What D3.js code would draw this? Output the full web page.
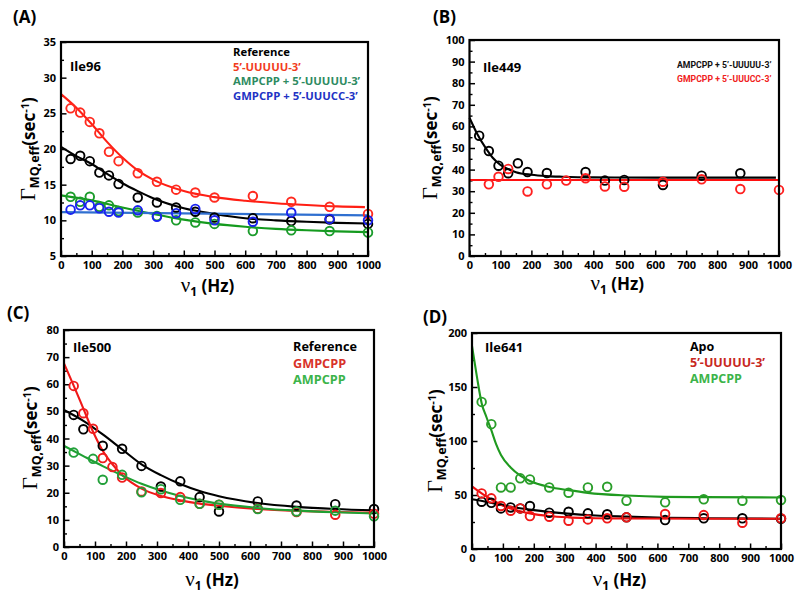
<!DOCTYPE html>
<html><head><meta charset="utf-8">
<script src="https://cdn.jsdelivr.net/npm/d3@7"></script>
<style>body{margin:0;background:#fff}svg{display:block}</style>
</head><body><svg id="c" width="800" height="595"></svg>
<script>
// ---------- DATA ----------
const xHz = [31.25, 62.5, 93.75, 125, 156.25, 187.5, 250, 312.5, 375, 437.5, 500, 625, 750, 875, 1000];

// (A) Ile96
const aReference = [18.6, 19.05, 18.3, 16.7, 16.3, 15.1, 13.2, 12.5, 11.8, 11.2, 10.4, 10.3, 9.9, 10.1, 9.5];
const aUUUUU     = [25.7, 25.1, 23.8, 22.2, 19.6, 18.3, 16.6, 15.4, 14.3, 13.9, 13.2, 13.4, 12.6, 11.9, 10.9];
const aAMP       = [13.3, 12.6, 13.3, 11.9, 12.1, 11.3, 11.1, 10.6, 10.0, 9.7, 9.5, 8.5, 8.6, 8.5, 8.3];
const aGMP       = [11.5, 12.1, 12.1, 11.7, 11.2, 11.1, 11.4, 10.5, 11.0, 11.6, 10.0, 9.8, 11.1, 10.2, 10.0];
const fitA_Reference = [[0,20.3],[50,19.0],[100,17.9],[150,16.5],[200,15.2],[250,14.1],[300,13.1],[400,11.7],[500,10.9],[600,10.3],[700,10.0],[800,9.8],[900,9.65],[1000,9.55]];
const fitA_UUUUU = [[0,27.7],[50,25.8],[100,23.5],[150,21.0],[200,18.8],[250,17.0],[300,15.7],[400,14.1],[500,13.25],[600,12.75],[700,12.4],[800,12.15],[900,11.95],[990,11.85]];
const fitA_AMP   = [[0,13.5],[100,12.8],[200,11.8],[300,10.9],[400,10.1],[500,9.5],[600,9.1],[700,8.8],[800,8.6],[900,8.45],[1000,8.35]];
const fitA_GMP   = [[0,11.15],[1000,10.7]];

// (B) Ile449
const bAMP = [55.7, 48.6, 41.8, 38.3, 42.9, 38.9, 38.4, null, 38.9, 34.9, 35.2, 32.9, 37.2, 38.3, null];
const bGMP = [null, 33.2, 36.7, 40.3, null, 29.9, 33.2, 34.9, 36.0, 32.2, 32.1, 34.4, 35.5, 31.0, 30.6];
const fitB_AMP = [[0,64],[25,56.5],[50,50.5],[75,45.5],[100,42.2],[125,40.2],[150,38.8],[200,37.6],[250,37.0],[300,36.7],[400,36.4],[600,36.3],[990,36.3]];
const fitB_GMP = [[0,35.2],[1000,35.2]];

// (C) Ile500
const cReference = [48.7, 43.4, null, 37.3, null, 36.2, 29.9, 22.3, 24.2, 18.4, 13.1, 16.8, 15.3, 15.8, 14.0];
const cGMP       = [59.4, 49.3, 43.6, 32.8, 29.5, 25.6, 20.5, 19.9, 18.4, 15.9, 15.6, 14.1, 12.9, 11.9, 12.3];
const cAMP       = [34.8, null, 32.5, 24.8, null, 26.6, 20.2, 21.3, 17.4, 15.9, 15.6, 14.0, 13.1, 13.4, 11.3];
const fitC_Reference = [[0,50.5],[62.5,46.5],[125,41.5],[187.5,36.0],[250,30.5],[312.5,26.5],[375,23.2],[437.5,20.6],[500,18.7],[625,16.2],[750,14.8],[875,14.0],[1000,13.5]];
const fitC_GMP = [[0,67.7],[31.25,59.5],[62.5,51],[93.75,42.5],[125,35.5],[156.25,30.5],[187.5,26.5],[250,21.5],[312.5,18.8],[375,17.2],[437.5,16.0],[500,15.2],[625,14.0],[750,13.3],[875,12.9],[1000,12.7]];
const fitC_AMP = [[0,37.3],[62.5,33.5],[125,29.8],[187.5,26.4],[250,23.3],[312.5,20.8],[375,18.8],[437.5,17.2],[500,16.0],[625,14.4],[750,13.4],[875,12.8],[1000,12.4]];

// (D) Ile641
const dApo    = [43.8, 42.8, 37.6, 38.5, 37.6, 39.8, 33.6, 34.5, 33.0, 32.1, 29.3, 26.8, 28.4, 28.4, 28.0];
const dUUUUU  = [51.5, 46.9, 39.8, 35.4, 37.6, 30.5, 29.9, 26.2, 27.4, 28.4, 29.3, 32.4, 31.4, 24.3, 28.4];
const dAMP    = [136.2, 115.6, 57.0, 57.0, 65.4, 64.4, 57.0, 52.1, 57.0, 57.6, 44.7, 43.2, 46.0, 44.7, 45.3];
const fitD_Apo = [[0,46],[50,43.5],[100,40.5],[150,38],[200,36],[300,33],[400,31],[500,30],[625,29.0],[750,28.5],[1000,28]];
const fitD_UUUUU = [[0,58],[31.25,51.5],[62.5,46],[93.75,41],[125,37.5],[156.25,35],[187.5,33],[250,30.5],[312.5,29.3],[375,28.7],[500,28.2],[750,28],[1000,28]];
const fitD_AMP = [[0,188],[15.6,160],[31.25,135],[46.9,122],[62.5,110],[78,97],[93.75,87],[125,75.5],[156.25,68],[187.5,63],[250,57.5],[312.5,54.5],[375,52],[500,49.5],[625,48.3],[750,48],[1000,47.7]];

const xTicks = [0,100,200,300,400,500,600,700,800,900,1000];

// ---------- LAYOUT / STYLE ----------
const panels = [
  { tag:"(A)", tagPos:[13,23], box:{l:61,r:368,t:42,b:256}, yDom:[5,35], yMajor:5, yMinor:2.5,
    name:"Ile96", namePos:[70,71], ytitle:[35,149], xtitleY:292,
    series:[
      {vals:aReference, fit:fitA_Reference, pc:"#000", lc:"#000"},
      {vals:aUUUUU, fit:fitA_UUUUU, pc:"#ff2a1f", lc:"#ff1f14"},
      {vals:aAMP, fit:fitA_AMP, pc:"#1c9c2c", lc:"#149a1e"},
      {vals:aGMP, fit:fitA_GMP, pc:"#1a22f0", lc:"#2f6fd0"}],
    legend:{x:233, y:56, dy:14.5, size:11.3, items:[["Reference","#000"],["5’-UUUUU-3’","#f23c1e"],["AMPCPP + 5’-UUUUU-3’","#2e8b62"],["GMPCPP + 5’-UUUCC-3’","#2232c4"]]}},
  { tag:"(B)", tagPos:[433,23], box:{l:469.5,r:779,t:40,b:256}, yDom:[0,100], yMajor:10, yMinor:5,
    name:"Ile449", namePos:[483,72], ytitle:[437,148], xtitleY:290,
    series:[
      {vals:bAMP, fit:fitB_AMP, pc:"#000", lc:"#000"},
      {vals:bGMP, fit:fitB_GMP, pc:"#ff2020", lc:"#ff1010"}],
    legend:{x:677, y:67.5, dy:14, size:8.7, family:"Roboto, 'Noto Sans', sans-serif", weight:700, items:[["AMPCPP + 5’-UUUUU-3’","#111"],["GMPCPP + 5’-UUUCC-3’","#f02020"]]}},
  { tag:"(C)", tagPos:[7,319], box:{l:64,r:374,t:330,b:547}, yDom:[0,80], yMajor:10, yMinor:5,
    name:"Ile500", namePos:[73,352], ytitle:[37,438], xtitleY:586,
    series:[
      {vals:cReference, fit:fitC_Reference, pc:"#000", lc:"#000"},
      {vals:cGMP, fit:fitC_GMP, pc:"#f01e1e", lc:"#f01818"},
      {vals:cAMP, fit:fitC_AMP, pc:"#22a03a", lc:"#1fa033"}],
    legend:{x:293, y:351, dy:16.5, size:12.7, items:[["Reference","#000"],["GMPCPP","#d8322a"],["AMPCPP","#3cb44a"]]}},
  { tag:"(D)", tagPos:[423,323], box:{l:472,r:781,t:333,b:549}, yDom:[0,200], yMajor:50, yMinor:25,
    name:"Ile641", namePos:[485,352], ytitle:[442,441], xtitleY:586,
    series:[
      {vals:dApo, fit:fitD_Apo, pc:"#000", lc:"#000"},
      {vals:dUUUUU, fit:fitD_UUUUU, pc:"#f01818", lc:"#f01010"},
      {vals:dAMP, fit:fitD_AMP, pc:"#2a9e2a", lc:"#1f9a1f"}],
    legend:{x:690, y:351, dy:16, size:12.5, items:[["Apo","#000"],["5’-UUUUU-3’","#c8281e"],["AMPCPP","#3cb44a"]]}}
];

const SANS = "'Open Sans', 'Noto Sans', sans-serif";
const SERIF = "'Liberation Serif', 'DejaVu Serif', serif";
const svg = d3.select("#c");

function range(a, b, s){ const out=[]; for(let v=a; v<=b+1e-9; v+=s) out.push(+v.toFixed(4)); return out; }

panels.forEach(p => {
  const B = p.box;
  const x = d3.scaleLinear().domain([0,1000]).range([B.l, B.r]);
  const y = d3.scaleLinear().domain(p.yDom).range([B.b, B.t]);
  const g = svg.append("g");

  // minor ticks
  const yMinorVals = range(p.yDom[0], p.yDom[1], p.yMinor).filter(v => Math.abs((v - p.yDom[0]) % p.yMajor) > 1e-6);
  g.append("g").attr("transform",`translate(${B.l},0)`)
    .call(d3.axisLeft(y).tickValues(yMinorVals).tickSize(-3).tickFormat(""))
    .call(s=>{s.select(".domain").remove(); s.selectAll("line").attr("stroke","#000").attr("stroke-width",1.4);});
  g.append("g").attr("transform",`translate(0,${B.b})`)
    .call(d3.axisBottom(x).tickValues(range(50,950,100)).tickSize(-3).tickFormat(""))
    .call(s=>{s.select(".domain").remove(); s.selectAll("line").attr("stroke","#000").attr("stroke-width",1.4);});

  // major ticks
  g.append("g").attr("transform",`translate(${B.l},0)`)
    .call(d3.axisLeft(y).tickValues(range(p.yDom[0], p.yDom[1], p.yMajor)).tickSize(-5.5).tickPadding(5).tickFormat(d3.format("d")))
    .call(s=>{s.select(".domain").remove(); s.selectAll("line").attr("stroke","#000").attr("stroke-width",1.5);
      s.selectAll("text").attr("fill","#000").style("font-family",SANS).style("font-weight",700).style("font-size","11px");});
  g.append("g").attr("transform",`translate(0,${B.b})`)
    .call(d3.axisBottom(x).tickValues(xTicks).tickSize(-5.5).tickPadding(5).tickFormat(d3.format("d")))
    .call(s=>{s.select(".domain").remove(); s.selectAll("line").attr("stroke","#000").attr("stroke-width",1.5);
      s.selectAll("text").attr("fill","#000").style("font-family",SANS).style("font-weight",700).style("font-size","11px");});

  // fits
  const line = d3.line().x(d=>x(d[0])).y(d=>y(d[1])).curve(d3.curveMonotoneX);
  p.series.forEach(s => {
    g.append("path").attr("d", line(s.fit)).attr("fill","none").attr("stroke",s.lc).attr("stroke-width",2.1);
  });
  // points
  p.series.forEach(s => {
    const pts = xHz.map((xv,i)=>[xv, s.vals[i]]).filter(d=>d[1]!=null);
    g.selectAll(null).data(pts).enter().append("circle")
      .attr("cx",d=>x(d[0])).attr("cy",d=>y(d[1])).attr("r",4.3)
      .attr("fill","none").attr("stroke",s.pc).attr("stroke-width",1.9);
  });

  // frame
  g.append("rect").attr("x",B.l).attr("y",B.t).attr("width",B.r-B.l).attr("height",B.b-B.t)
    .attr("fill","none").attr("stroke","#000").attr("stroke-width",2.2);

  // residue name
  g.append("text").attr("x",p.namePos[0]).attr("y",p.namePos[1]).text(p.name)
    .style("font-family",SANS).style("font-weight",700).style("font-size","13px");

  // legend
  p.legend.items.forEach((it,i)=>{
    g.append("text").attr("x",p.legend.x).attr("y",p.legend.y + i*p.legend.dy).text(it[0])
      .attr("fill",it[1]).style("font-family",p.legend.family || SANS).style("font-weight",p.legend.weight || 700).style("font-size",p.legend.size+"px");
  });

  // panel tag
  g.append("text").attr("x",p.tagPos[0]).attr("y",p.tagPos[1]).text(p.tag)
    .style("font-family",SANS).style("font-weight",700).style("font-size","17px");

  // y title
  const yt = g.append("text").attr("transform",`translate(${p.ytitle[0]},${p.ytitle[1]}) rotate(-90)`)
    .attr("text-anchor","middle").attr("fill","#000");
  yt.append("tspan").text("Γ").style("font-family",SERIF).style("font-size","22px");
  yt.append("tspan").text("MQ,eff").attr("dy",4).style("font-family",SANS).style("font-weight",700).style("font-size","12.5px");
  yt.append("tspan").text("(sec").attr("dy",-4).style("font-family",SANS).style("font-weight",700).style("font-size","17px");
  yt.append("tspan").text("-1").attr("dy",-6).style("font-family",SANS).style("font-weight",700).style("font-size","11px");
  yt.append("tspan").text(")").attr("dy",6).style("font-family",SANS).style("font-weight",700).style("font-size","17px");

  // x title
  const xt = g.append("text").attr("x",(B.l+B.r)/2 - 7).attr("y",p.xtitleY).attr("text-anchor","middle").attr("fill","#000");
  xt.append("tspan").text("ν").style("font-family",SERIF).style("font-size","21px");
  xt.append("tspan").text("1").attr("dy",4).style("font-family",SANS).style("font-weight",700).style("font-size","12px");
  xt.append("tspan").text(" (Hz)").attr("dy",-4).style("font-family",SANS).style("font-weight",700).style("font-size","17px");
});
</script></body></html>
